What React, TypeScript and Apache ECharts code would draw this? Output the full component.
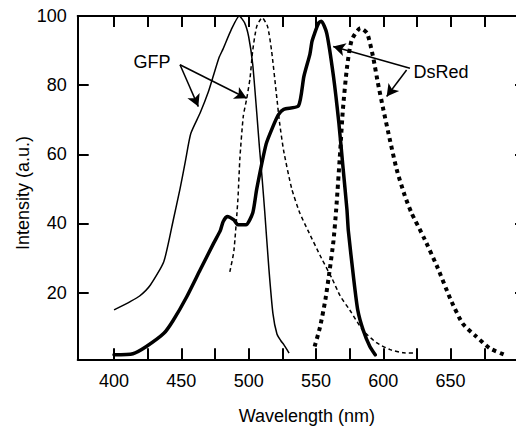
import React, { useEffect, useRef } from "react";
import * as echarts from "echarts";

const gfpExcitation: number[][] = [
  [400, 15], [412, 17.4], [419, 19], [427, 22.2], [437, 29], [444, 41], [449, 50], [453, 58],
  [457, 66], [464, 72], [470, 78], [474, 83], [478, 88], [481, 90.5], [487, 96], [493, 100],
  [497, 98], [500, 94], [503, 86], [506, 72], [508, 62], [510, 53], [512, 43], [515, 27],
  [518, 14], [521, 8], [524, 6], [526, 5], [530, 2.5],
];
const gfpEmission: number[][] = [
  [486, 26], [489, 32], [492, 47], [493.5, 59], [496, 71], [498.5, 76], [501, 82], [503, 90],
  [506, 97], [510, 99.5], [514, 97], [517, 90], [521, 76], [523, 69], [526, 61], [532, 50],
  [538, 43], [544, 38], [554, 30], [562, 24], [568, 19], [575, 15], [585, 9], [595, 5.5],
  [605, 3.5], [615, 2.6], [624, 2.5],
];
const dsredExcitation: number[][] = [
  [400, 2], [414, 2.3], [424, 4.4], [437, 8.2], [444, 12], [454, 18.8], [464, 26.6], [474, 34.3],
  [479, 38], [481, 40.5], [484, 42], [489, 41], [492, 39.6], [498, 39.6], [503, 43], [506, 50],
  [513, 63], [518, 68], [522, 71.4], [526, 73], [537, 74], [541, 82.5], [545.5, 89], [547, 92.6],
  [549, 95], [552, 98], [554, 98.5], [558, 95], [563, 82.5], [567, 69], [570, 56.5], [573, 44],
  [574, 38], [578, 24], [581, 15], [585, 9.2], [590, 4.4], [594, 2],
];
const dsredEmission: number[][] = [
  [549, 4.4], [553, 10], [557, 18], [560, 26], [563, 35], [565, 44], [568, 61], [570, 73],
  [573, 85], [576.5, 93], [583, 96.5], [588, 95], [592.5, 88], [596, 80.6], [600, 73], [605, 64],
  [610, 55.5], [616, 48], [621, 43], [630, 36], [640, 27.5], [650, 18], [659, 11], [669, 7.3],
  [679, 3.9], [690, 2],
];

const xTickValues = [400, 425, 450, 475, 500, 525, 550, 575, 600, 625, 650, 675, 700];
const xLabelValues = [400, 450, 500, 550, 600, 650];
const yTickValues = [20, 40, 60, 80, 100];

const gfpArrows = [
  [[449, 85.9], [462.6, 73.8]],
  [[449, 85.9], [498.5, 76.2]],
];
const dsredArrows = [
  [[619.8, 84.9], [562.8, 91.2]],
  [[617.3, 84.4], [602.5, 76.7]],
];

const FONT = '"Liberation Sans", Arial, sans-serif';
const X_MIN = 373;
const X_MAX = 706;
const Y_MIN = 0.7;
const Y_MAX = 100;

export default function App() {
  const ref = useRef<HTMLDivElement>(null);
  useEffect(() => {
    if (!ref.current) return;
    const chart = echarts.init(ref.current, undefined, { renderer: "svg" });
    const axisLine = { lineStyle: { color: "#000", width: 2 } };
    const tickStyle = { color: "#000", width: 2 };
    const labelStyle = { color: "#000", fontSize: 18, fontFamily: FONT };
    const arrowLines = (arr: number[][][]) =>
      arr.map((a) => [{ coord: a[0] }, { coord: a[1] }]);
    chart.setOption({
      animation: false,
      grid: { left: 77.7, top: 16, right: -10, bottom: 68.7, containLabel: false, outerBoundsMode: "none" },
      xAxis: [
        {
          type: "value", min: X_MIN, max: X_MAX, position: "bottom",
          axisLine, splitLine: { show: false },
          axisTick: { inside: true, length: 11, customValues: xTickValues, lineStyle: tickStyle },
          axisLabel: { ...labelStyle, customValues: xLabelValues, margin: 13 },
          name: "Wavelength (nm)", nameLocation: "middle", nameGap: 48,
          nameTextStyle: { ...labelStyle, padding: [0, 0, 0, 10] },
        },
        {
          type: "value", min: X_MIN, max: X_MAX, position: "top",
          axisLine, splitLine: { show: false },
          axisTick: { inside: true, length: 11, customValues: xTickValues, lineStyle: tickStyle },
          axisLabel: { show: false },
        },
      ],
      yAxis: [
        {
          type: "value", min: Y_MIN, max: Y_MAX, position: "left",
          axisLine: { show: true, ...axisLine }, splitLine: { show: false },
          axisTick: { show: true, inside: true, length: 11, customValues: yTickValues, lineStyle: tickStyle },
          axisLabel: { ...labelStyle, customValues: yTickValues, margin: 11 },
        },
        {
          type: "value", min: Y_MIN, max: Y_MAX, position: "right",
          axisLine: { show: true, ...axisLine }, splitLine: { show: false },
          axisTick: { show: true, inside: true, length: 11, customValues: yTickValues, lineStyle: tickStyle },
          axisLabel: { show: false },
        },
      ],
      series: [
        {
          name: "GFP excitation", type: "line", data: gfpExcitation, showSymbol: false, smooth: 0.2,
          lineStyle: { color: "#000", width: 1.5 },
          markLine: {
            silent: true, symbol: ["none", "arrow"], symbolSize: [10, 12],
            lineStyle: { color: "#000", width: 1.5, type: "solid" }, label: { show: false },
            data: arrowLines(gfpArrows),
          },
        },
        {
          name: "GFP emission", type: "line", data: gfpEmission, showSymbol: false, smooth: 0.2,
          lineStyle: { color: "#000", width: 1.5, type: [4, 3] },
        },
        {
          name: "DsRed excitation", type: "line", data: dsredExcitation, showSymbol: false, smooth: 0.2,
          lineStyle: { color: "#000", width: 3.5, cap: "round", join: "round" },
          markLine: {
            silent: true, symbol: ["none", "arrow"], symbolSize: [10, 12],
            lineStyle: { color: "#000", width: 1.5, type: "solid" }, label: { show: false },
            data: arrowLines(dsredArrows),
          },
        },
        {
          name: "DsRed emission", type: "line", data: dsredEmission, showSymbol: false, smooth: 0.2,
          lineStyle: { color: "#000", width: 4, type: [4, 4] },
        },
      ],
      graphic: [
        { type: "text", x: 152, y: 62, style: { text: "GFP", fill: "#000", fontSize: 18, fontFamily: FONT, align: "center", verticalAlign: "middle" } },
        { type: "text", x: 441, y: 72, style: { text: "DsRed", fill: "#000", fontSize: 18, fontFamily: FONT, align: "center", verticalAlign: "middle" } },
        { type: "text", x: 23, y: 193, rotation: Math.PI / 2, style: { text: "Intensity (a.u.)", fill: "#000", fontSize: 18, fontFamily: FONT, align: "center", verticalAlign: "middle" } },
      ],
    });
    return () => chart.dispose();
  }, []);
  return (
    <div
      ref={ref}
      style={{ position: "fixed", left: 0, top: 0, width: 516, height: 428, background: "#fff" }}
    />
  );
}
